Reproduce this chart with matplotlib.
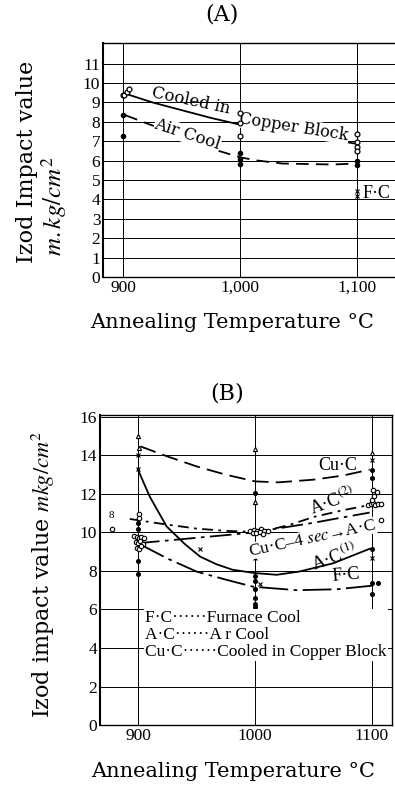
import numpy as np
import matplotlib
matplotlib.use("Agg")
import matplotlib.pyplot as plt

plt.rcParams['font.family'] = ['Liberation Serif', 'DejaVu Serif']
plt.rcParams['mathtext.fontset'] = 'stix'
WIDE = ['DejaVu Serif', 'Liberation Serif']

# ---------------- panel A data ----------------
a_cu_x = [903, 925, 950, 975, 1000, 1025, 1050, 1075, 1098]
a_cu_y = [9.43, 9.0, 8.6, 8.2, 7.85, 7.6, 7.35, 7.1, 6.88]
a_ac_x = [902, 929, 955, 980, 1000, 1014, 1036, 1079, 1098]
a_ac_y = [8.34, 7.72, 7.05, 6.53, 6.17, 6.01, 5.85, 5.80, 5.85]

a_cu_pts_x = [900, 901, 903, 905, 1000, 1000, 1000, 1100, 1100, 1100, 1100]
a_cu_pts_y = [9.4, 9.36, 9.55, 9.67, 8.45, 7.93, 7.25, 7.36, 6.96, 6.7, 6.5]
a_ac_pts_x = [900, 900, 1000, 1000, 1000, 1100, 1100]
a_ac_pts_y = [8.34, 7.25, 6.37, 6.1, 5.85, 5.97, 5.75]
a_fc_pts_x = [1100, 1100]
a_fc_pts_y = [4.42, 4.2]

# ---------------- panel B data ----------------
b_cuc_x = [902, 925, 950, 975, 1000, 1020, 1050, 1075, 1098]
b_cuc_y = [14.47, 13.95, 13.43, 13.0, 12.65, 12.6, 12.74, 12.95, 13.26]
b_ac1_x = [900, 910, 924.5, 940, 953, 967, 981, 1000, 1018.5, 1038, 1067, 1098]
b_ac1_y = [13.26, 11.87, 10.31, 9.4, 8.75, 8.35, 8.06, 7.89, 7.8, 7.97, 8.4, 9.15]
b_ac2_x = [893, 920, 950, 975, 993, 1010, 1030, 1050, 1075, 1107]
b_ac2_y = [10.7, 10.45, 10.2, 10.08, 10.04, 10.1, 10.4, 10.8, 11.15, 11.53]
b_cu4_x = [900, 925, 950, 975, 993, 1021, 1050, 1075, 1098]
b_cu4_y = [9.44, 9.58, 9.72, 9.86, 9.96, 10.22, 10.5, 10.78, 11.03]
b_fc_x = [900, 925, 950, 975, 998.5, 1036, 1070, 1101]
b_fc_y = [9.44, 8.65, 7.97, 7.55, 7.18, 7.0, 7.05, 7.24]

b_tri_x = [900, 901, 1000, 1000, 1100]
b_tri_y = [15.0, 14.4, 14.31, 11.58, 14.14]
b_x_x = [900, 900, 953, 1000, 1004, 1100, 1100]
b_x_y = [14.0, 13.27, 9.15, 8.68, 7.3, 13.74, 8.68]
b_open_x = [878, 901, 901, 1108,
            897, 899, 901, 903, 905, 898, 900, 902, 904, 899, 901, 903,
            996, 999, 1002, 1005, 1008, 1011, 998, 1001, 1004, 1007,
            1097, 1099, 1101, 1103, 1105, 1108, 1100, 1102, 1104, 1101]
b_open_y = [10.2, 10.97, 10.76, 10.67,
            9.8, 9.75, 9.7, 9.78, 9.72, 9.5, 9.45, 9.55, 9.4, 9.2, 9.15, 9.3,
            10.1, 10.15, 10.05, 10.16, 10.1, 10.05, 9.95, 9.98, 10.0, 9.93,
            11.45, 11.5, 11.55, 11.45, 11.5, 11.5, 11.7, 11.9, 12.1, 12.2]
b_dot_x = [900, 900, 900, 900, 1000, 1000, 1000, 1000, 1000, 1000, 1000,
           1100, 1100, 1100, 1100, 1105, 1100]
b_dot_y = [10.5, 10.2, 8.5, 7.82, 12.06, 7.73, 7.5, 7.04, 6.6, 6.3, 6.15,
           13.22, 12.84, 9.12, 7.39, 7.39, 6.81]

fig = plt.figure(figsize=(3.95, 7.85), dpi=100)

# ================= (A) =================
ax1 = fig.add_axes([0.261, 0.647, 0.739, 0.298])
ax1.plot(a_cu_x, a_cu_y, color='k', lw=1.3)
ax1.plot(a_ac_x, a_ac_y, color='k', lw=1.3, dashes=(7, 4))
ax1.plot(a_cu_pts_x, a_cu_pts_y, 'o', mfc='white', mec='k', ms=3.5, mew=0.9, zorder=5)
ax1.plot(a_ac_pts_x, a_ac_pts_y, 'o', color='k', ms=3, zorder=5)
ax1.plot(a_fc_pts_x, a_fc_pts_y, 'x', color='k', ms=3, mew=0.8)
ax1.set_xlim(883, 1132)
ax1.set_ylim(0, 12.05)
ax1.set_yticks(range(0, 12))
ax1.set_xticks([900, 1000, 1100])
ax1.set_xticklabels(['900', '1,000', '1,100'])
ax1.grid(True, color='k', lw=0.7)
ax1.tick_params(length=0, labelsize=12.5, pad=2)
ax1.spines['right'].set_visible(False)
ax1.spines['left'].set_linewidth(1.5)
for s in ['top', 'bottom']:
    ax1.spines[s].set_linewidth(1.0)

ax1.text(958, 9.1, 'Cooled in', rotation=-12, ha='center', va='center', fontsize=12,
         family=WIDE)
ax1.text(1046, 7.72, 'Copper Block', rotation=-9, ha='center', va='center', fontsize=11.5,
         family=WIDE, bbox=dict(fc='white', ec='none', pad=0.3))
ax1.text(955, 7.35, 'Air Cool', rotation=-18, ha='center', va='center', fontsize=12,
         family=WIDE, bbox=dict(fc='white', ec='none', pad=0.3))
ax1.text(1104, 4.32, 'F·C', ha='left', va='center', fontsize=13)

fig.text(0.562, 0.981, '(A)', ha='center', va='center', fontsize=16, family=WIDE)
fig.text(0.587, 0.589, 'Annealing Temperature °C', ha='center', va='center', fontsize=15,
         family=WIDE)
fig.text(0.068, 0.794, 'Izod Impact value', rotation=90, ha='center', va='center',
         fontsize=16, family=WIDE)
fig.text(0.138, 0.737, r'$m.kg/cm^2$', rotation=90, ha='center', va='center', fontsize=18)

# ================= (B) =================
ax2 = fig.add_axes([0.253, 0.0764, 0.739, 0.395])
ax2.plot(b_cuc_x, b_cuc_y, color='k', lw=1.3, dashes=(9, 4))
ax2.plot(b_ac1_x, b_ac1_y, color='k', lw=1.3)
ax2.plot(b_ac2_x, b_ac2_y, color='k', lw=1.3, dashes=(6, 3, 1.5, 3))
ax2.plot(b_cu4_x, b_cu4_y, color='k', lw=1.3, dashes=(12, 3, 2, 3))
ax2.plot(b_fc_x, b_fc_y, color='k', lw=1.3, dashes=(16, 3, 2, 3))
ax2.plot(b_tri_x, b_tri_y, '^', mfc='white', mec='k', ms=3, mew=0.8)
ax2.plot(b_x_x, b_x_y, 'x', color='k', ms=3, mew=0.8)
ax2.plot(b_open_x, b_open_y, 'o', mfc='white', mec='k', ms=3.2, mew=0.8)
ax2.plot(b_dot_x, b_dot_y, 'o', color='k', ms=2.6)
ax2.text(877.5, 10.9, '8', ha='center', va='center', fontsize=8)

ax2.set_xlim(867.5, 1117)
ax2.set_ylim(0, 16.1)
ax2.set_yticks(range(0, 17, 2))
ax2.set_xticks([900, 1000, 1100])
ax2.grid(True, color='k', lw=0.7)
ax2.tick_params(length=0, labelsize=12.5, pad=2)
for s in ['top', 'bottom', 'right']:
    ax2.spines[s].set_linewidth(1.0)
ax2.spines['left'].set_linewidth(1.5)

ax2.text(1071, 13.45, 'Cu·C', ha='center', va='center', fontsize=13)
ax2.text(1066, 11.65, r'A·C$^{(2)}$', rotation=20, ha='center', va='center', fontsize=13)
ax2.text(993, 9.7, r'Cu·C–4 $\mathit{sec}$→A·C', rotation=12, ha='left', va='center',
         fontsize=12.5, bbox=dict(fc='white', ec='none', pad=0.2))
ax2.text(1068, 8.7, r'A·C$^{(1)}$', rotation=20, ha='center', va='center', fontsize=13)
ax2.text(1078, 7.75, 'F·C', rotation=5, ha='center', va='center', fontsize=13)

leg_txt = 'F·C······Furnace Cool\nA·C······A r Cool\nCu·C······Cooled in Copper Block'
ax2.text(906, 4.67, leg_txt, ha='left', va='center', fontsize=12.5, linespacing=1.05,
         bbox=dict(fc='white', ec='none', pad=1))

fig.text(0.574, 0.499, '(B)', ha='center', va='center', fontsize=16, family=WIDE)
fig.text(0.59, 0.0166, 'Annealing Temperature °C', ha='center', va='center', fontsize=15,
         family=WIDE)
fig.text(0.109, 0.268, r'Izod impact value $\mathit{mkg/cm^2}$', rotation=90,
         ha='center', va='center', fontsize=16, family=WIDE)

fig.savefig('out.png', dpi=100)
